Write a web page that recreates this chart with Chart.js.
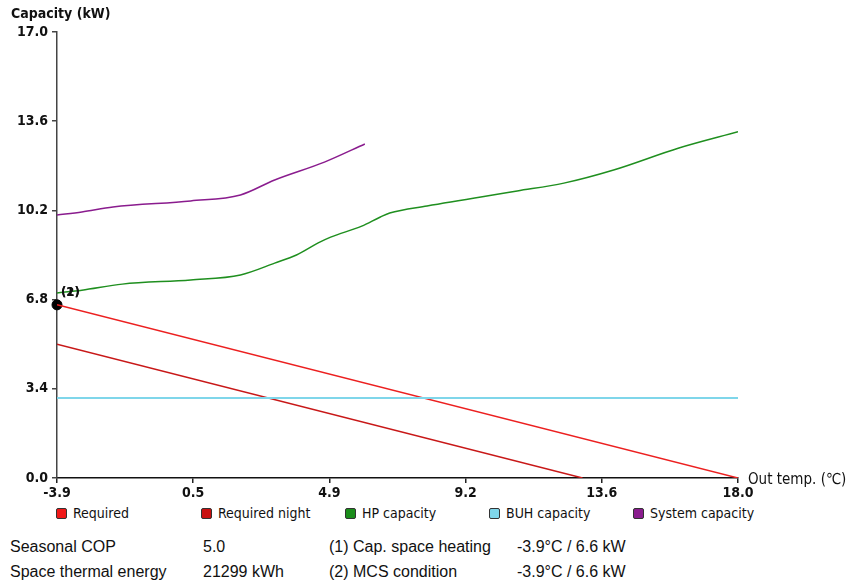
<!DOCTYPE html>
<html>
<head>
<meta charset="utf-8">
<script src="https://cdn.jsdelivr.net/npm/chart.js@4"></script>
<style>
body{margin:0;background:#fff;width:848px;height:584px;position:relative;overflow:hidden}
#wrap{position:absolute;left:0;top:0;width:848px;height:500px}
.lg{position:absolute;top:505px;font:14px "Liberation Sans Narrow","DejaVu Sans Condensed",sans-serif;color:#111}
.lg span{display:inline-block;width:9px;height:9px;border:1px solid #333;border-radius:2px;margin-right:6px;vertical-align:-1px}
.info{position:absolute;font:16px "Liberation Sans",Arial,sans-serif;color:#111;white-space:nowrap}
</style>
</head>
<body>
<div id="wrap"><canvas id="MainChart" width="848" height="500"></canvas></div>

<div class="lg" style="left:56px"><span style="background:#f01818"></span>Required</div>
<div class="lg" style="left:201px"><span style="background:#c81010"></span>Required night</div>
<div class="lg" style="left:345px"><span style="background:#1a8c1a"></span>HP capacity</div>
<div class="lg" style="left:489px"><span style="background:#7fd6ea"></span>BUH capacity</div>
<div class="lg" style="left:633px"><span style="background:#8a1c8e"></span>System capacity</div>

<div class="info" style="left:10px;top:538px">Seasonal COP</div>
<div class="info" style="left:203px;top:538px">5.0</div>
<div class="info" style="left:329px;top:538px">(1) Cap. space heating</div>
<div class="info" style="left:517px;top:538px">-3.9°C / 6.6 kW</div>
<div class="info" style="left:10px;top:563px">Space thermal energy</div>
<div class="info" style="left:203px;top:563px">21299 kWh</div>
<div class="info" style="left:329px;top:563px">(2) MCS condition</div>
<div class="info" style="left:517px;top:563px">-3.9°C / 6.6 kW</div>

<script>
var xTicks = [-3.9, 0.48, 4.86, 9.24, 13.62, 18.0];
var yTicks = [0.0, 3.4, 6.8, 10.2, 13.6, 17.0];

var reqTemp = [-3.9, 18.0];
var reqCap = [6.6, 0.0];
var nightTemp = [-3.9, 13.0];
var nightCap = [5.1, 0.0];
var hpTemp = [-3.9, -3.1, -1.8, 0.4, 2.0, 3.1, 3.8, 4.5, 4.9, 5.9, 6.5, 6.8, 8.0, 10.9, 12.4, 14.0, 16.1, 18.0];
var hpCap = [7.05, 7.16, 7.39, 7.55, 7.74, 8.19, 8.5, 8.96, 9.18, 9.6, 9.95, 10.1, 10.37, 10.94, 11.24, 11.74, 12.58, 13.2];
var buhTemp = [-3.9, 18.0];
var buhCap = [3.05, 3.05];
var sysTemp = [-3.9, -3.1, -2.1, 0.4, 2.0, 3.1, 4.7, 6.0];
var sysCap = [10.02, 10.14, 10.33, 10.56, 10.79, 11.36, 12.04, 12.73];
var condTemp = [-3.9];
var condCap = [6.6];

function pts(xs, ys){
	var out = [];
	for(let i=0; i<xs.length; i++) out.push({x: xs[i], y: ys[i]});
	return out;
}

var tickFont = {family: '"Liberation Sans Narrow","DejaVu Sans Condensed",sans-serif', size: 14, weight: 'bold'};

// axis titles and the (1)/(2) label
var extras = {
	id: 'extras',
	afterDraw: function(chart){
		var ctx = chart.ctx;
		var xs = chart.scales.x, ys = chart.scales.y;
		ctx.save();
		ctx.fillStyle = '#111';
		ctx.textBaseline = 'middle';
		ctx.font = 'bold 14px "Liberation Sans Narrow","DejaVu Sans Condensed",sans-serif';
		ctx.fillText('Capacity (kW)', 11, 14);
		ctx.font = '15px "Liberation Sans Narrow","DejaVu Sans Condensed",sans-serif';
		ctx.fillText('Out temp. (\u2103)', 748, ys.getPixelForValue(0) + 2);
		ctx.font = 'bold 13px "Liberation Sans Narrow","DejaVu Sans Condensed",sans-serif';
		var px = xs.getPixelForValue(condTemp[0]) + 4;
		var py = ys.getPixelForValue(condCap[0]) - 12;
		ctx.fillText('(1)', px, py);
		ctx.fillText('(2)', px, py);
		ctx.restore();
	}
};

new Chart(document.getElementById('MainChart'), {
	type: 'line',
	data: {
		datasets: [{
			label: 'BUH capacity',
			data: pts(buhTemp, buhCap),
			borderColor: '#7fd6ea',
			borderWidth: 2,
			pointRadius: 0
		},{
			label: 'Required night',
			data: pts(nightTemp, nightCap),
			borderColor: '#c81818',
			borderWidth: 1.5,
			pointRadius: 0
		},{
			label: 'Required',
			data: pts(reqTemp, reqCap),
			borderColor: '#ec2020',
			borderWidth: 1.5,
			pointRadius: 0
		},{
			label: 'HP capacity',
			data: pts(hpTemp, hpCap),
			borderColor: '#1f8f1f',
			borderWidth: 1.5,
			pointRadius: 0,
			cubicInterpolationMode: 'monotone'
		},{
			label: 'System capacity',
			data: pts(sysTemp, sysCap),
			borderColor: '#8a1c8e',
			borderWidth: 1.5,
			pointRadius: 0,
			cubicInterpolationMode: 'monotone'
		},{
			label: 'MCS condition',
			data: pts(condTemp, condCap),
			borderColor: '#000',
			backgroundColor: '#000',
			pointRadius: 5,
			showLine: false,
			clip: false
		}]
	},
	options: {
		responsive: false,
		animation: false,
		layout: {padding: {top: 32, right: 110, left: 0, bottom: 0}},
		plugins: {legend: {display: false}, tooltip: {enabled: false}},
		scales: {
			x: {
				type: 'linear',
				min: -3.9,
				max: 18.0,
				afterBuildTicks: function(s){ s.ticks = xTicks.map(function(v){ return {value: v}; }); },
				afterFit: function(s){ s.height = 22; },
				ticks: {
					font: tickFont,
					color: '#111',
					padding: 2,
					maxRotation: 0,
					autoSkip: false,
					callback: function(v){ return v.toFixed(1); }
				},
				grid: {drawOnChartArea: false, drawTicks: true, tickLength: 5, color: '#222', lineWidth: 1.5},
				border: {display: true, color: '#111', width: 1.5}
			},
			y: {
				type: 'linear',
				min: 0,
				max: 17,
				afterBuildTicks: function(s){ s.ticks = yTicks.map(function(v){ return {value: v}; }); },
				afterFit: function(s){ s.width = 57; },
				ticks: {
					font: tickFont,
					color: '#111',
					padding: 4,
					autoSkip: false,
					callback: function(v){ return v.toFixed(1); }
				},
				grid: {drawOnChartArea: false, drawTicks: true, tickLength: 5, color: '#444', lineWidth: 1.5},
				border: {display: true, color: '#444', width: 1.5}
			}
		}
	},
	plugins: [extras]
});
</script>
</body>
</html>
